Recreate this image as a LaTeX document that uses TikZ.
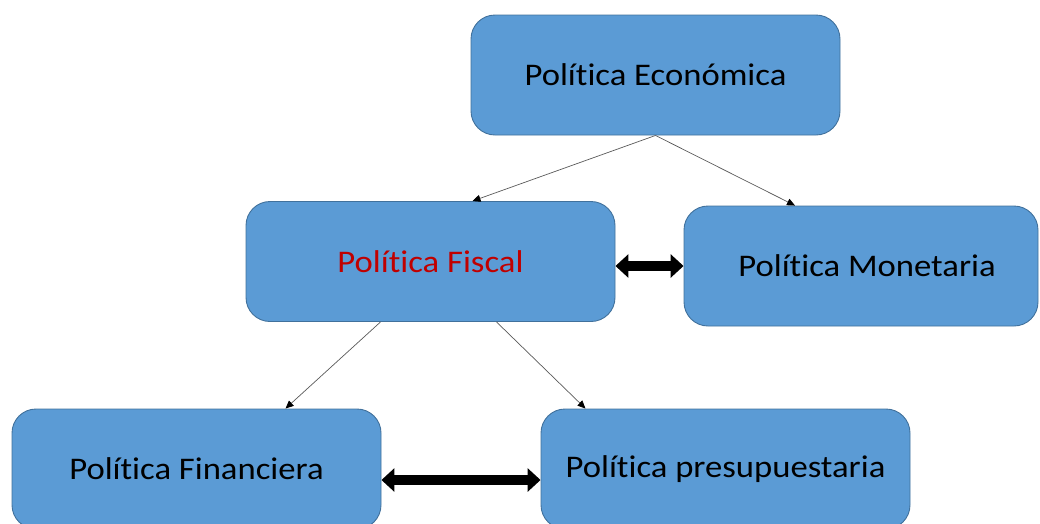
\documentclass[tikz,border=0pt]{standalone}
\usepackage{fontspec}
\setmainfont{Carlito}[FakeStretch=1.1, Ligatures={NoCommon}]
\usetikzlibrary{arrows.meta}
\definecolor{boxfill}{HTML}{5B9BD5}
\definecolor{boxline}{HTML}{41719C}
\definecolor{redtxt}{HTML}{C00000}
\begin{document}
\begin{tikzpicture}[x=1pt,y=-1pt,
  box/.style={draw=boxline, line width=0.9pt, fill=boxfill, rounded corners=24pt,
    minimum width=369pt, minimum height=120pt, inner sep=0pt,
    font=\fontsize{31.5}{36}\selectfont, text=black},
  thin/.style={draw=black!65, line width=0.7pt, -{Triangle[length=8pt,width=7pt,black]}},
  thick/.style={line width=9.5pt, {Triangle[length=13pt,width=23pt]}-{Triangle[length=13pt,width=23pt]}}
]
\useasboundingbox (0,0) rectangle (1040,523);
\node[box] (eco) at (655.5,75) {Política Económica};
\node[box, text=redtxt] (fiscal) at (430.5,261.5) {Política Fiscal};
\node[box, minimum width=354pt] (mon) at (861,266) {\hspace*{12pt}Política Monetaria};
\node[box] (fin) at (196.5,469) {Política Financiera};
\node[box] (pres) at (725.5,469) {Política presupuestaria};
\draw[thin] (eco.south) -- ([xshift=42pt]fiscal.north);
\draw[thin] (eco.south) -- ([xshift=-66pt]mon.north);
\draw[thin] ([xshift=-50pt]fiscal.south) -- ([xshift=89pt]fin.north);
\draw[thin] ([xshift=66pt]fiscal.south) -- ([xshift=-140pt]pres.north);
\draw[thick] (fiscal.east |- mon.west) -- (mon.west);
\draw[thick] ([yshift=-11pt]fin.east) -- ([yshift=-11pt]pres.west);
\end{tikzpicture}
\end{document}
